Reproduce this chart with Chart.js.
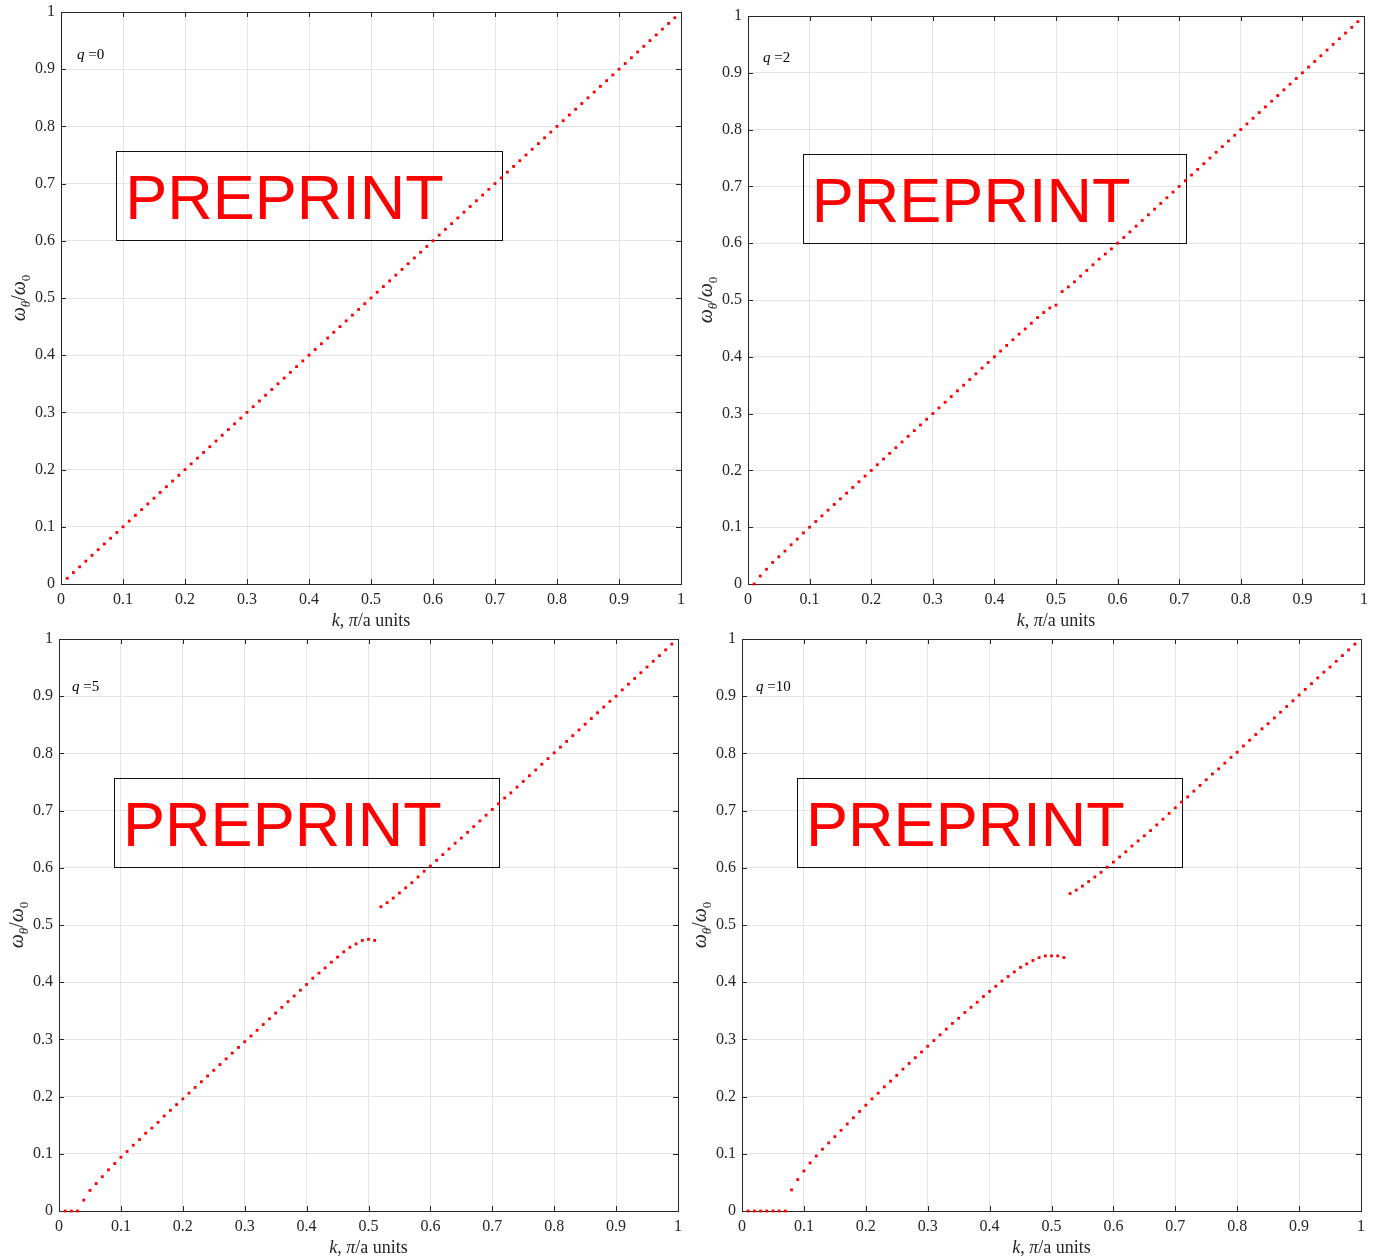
<!DOCTYPE html>
<html>
<head>
<meta charset="utf-8">
<script src="https://cdn.jsdelivr.net/npm/chart.js@4.4.0/dist/chart.umd.min.js"></script>
<style>
  html, body { margin: 0; padding: 0; background: #fff; }
  #fig { position: relative; width: 1387px; height: 1260px; overflow: hidden; }
  #fig canvas { position: absolute; }
</style>
</head>
<body>
<div id="fig">
  <canvas id="c0"></canvas>
  <canvas id="c1"></canvas>
  <canvas id="c2"></canvas>
  <canvas id="c3"></canvas>
</div>
<script>
// ─── Dados (k em unidades de π/a, ω_θ/ω_0) ──────────
const K = [
  0.01,0.02,0.03,0.04,0.05,0.06,0.07,0.08,0.09,0.10,
  0.11,0.12,0.13,0.14,0.15,0.16,0.17,0.18,0.19,0.20,
  0.21,0.22,0.23,0.24,0.25,0.26,0.27,0.28,0.29,0.30,
  0.31,0.32,0.33,0.34,0.35,0.36,0.37,0.38,0.39,0.40,
  0.41,0.42,0.43,0.44,0.45,0.46,0.47,0.48,0.49,0.50,
  0.51,0.52,0.53,0.54,0.55,0.56,0.57,0.58,0.59,0.60,
  0.61,0.62,0.63,0.64,0.65,0.66,0.67,0.68,0.69,0.70,
  0.71,0.72,0.73,0.74,0.75,0.76,0.77,0.78,0.79,0.80,
  0.81,0.82,0.83,0.84,0.85,0.86,0.87,0.88,0.89,0.90,
  0.91,0.92,0.93,0.94,0.95,0.96,0.97,0.98,0.99
];

const W_Q0 = [
  0.01,0.02,0.03,0.04,0.05,0.06,0.07,0.08,0.09,0.10,
  0.11,0.12,0.13,0.14,0.15,0.16,0.17,0.18,0.19,0.20,
  0.21,0.22,0.23,0.24,0.25,0.26,0.27,0.28,0.29,0.30,
  0.31,0.32,0.33,0.34,0.35,0.36,0.37,0.38,0.39,0.40,
  0.41,0.42,0.43,0.44,0.45,0.46,0.47,0.48,0.49,0.50,
  0.51,0.52,0.53,0.54,0.55,0.56,0.57,0.58,0.59,0.60,
  0.61,0.62,0.63,0.64,0.65,0.66,0.67,0.68,0.69,0.70,
  0.71,0.72,0.73,0.74,0.75,0.76,0.77,0.78,0.79,0.80,
  0.81,0.82,0.83,0.84,0.85,0.86,0.87,0.88,0.89,0.90,
  0.91,0.92,0.93,0.94,0.95,0.96,0.97,0.98,0.99
];

const W_Q2 = [
  0.000,0.014,0.026,0.038,0.048,0.058,0.069,0.079,0.090,0.100,
  0.110,0.120,0.130,0.140,0.150,0.160,0.170,0.180,0.190,0.200,
  0.210,0.220,0.230,0.240,0.250,0.260,0.270,0.280,0.290,0.300,
  0.310,0.320,0.330,0.340,0.350,0.360,0.370,0.380,0.390,0.400,
  0.410,0.420,0.430,0.440,0.449,0.459,0.469,0.478,0.486,0.491,
  0.515,0.523,0.532,0.542,0.552,0.562,0.572,0.581,0.590,0.600,
  0.610,0.620,0.630,0.640,0.650,0.660,0.670,0.680,0.690,0.700,
  0.710,0.720,0.730,0.740,0.750,0.760,0.770,0.780,0.790,0.800,
  0.810,0.820,0.830,0.840,0.850,0.860,0.870,0.880,0.890,0.900,
  0.910,0.920,0.930,0.940,0.950,0.960,0.970,0.980,0.990
];

const W_Q5 = [
  0.000,0.000,0.000,0.019,0.036,0.048,0.060,0.072,0.083,0.094,
  0.104,0.115,0.125,0.136,0.145,0.155,0.166,0.176,0.186,0.196,
  0.206,0.216,0.226,0.236,0.246,0.256,0.266,0.276,0.286,0.296,
  0.306,0.316,0.326,0.336,0.346,0.356,0.366,0.376,0.386,0.396,
  0.407,0.416,0.425,0.435,0.444,0.453,0.461,0.467,0.473,0.475,
  0.473,0.532,0.539,0.547,0.556,0.565,0.574,0.584,0.594,0.603,
  0.613,0.623,0.633,0.643,0.652,0.662,0.672,0.682,0.692,0.702,
  0.712,0.722,0.731,0.741,0.751,0.761,0.771,0.781,0.791,0.801,
  0.811,0.821,0.831,0.841,0.851,0.861,0.871,0.881,0.891,0.900,
  0.911,0.921,0.931,0.941,0.951,0.961,0.971,0.981,0.991
];

const W_Q10 = [
  0.000,0.000,0.000,0.000,0.000,0.000,0.000,0.037,0.055,0.070,
  0.084,0.096,0.108,0.119,0.130,0.141,0.152,0.163,0.174,0.185,
  0.196,0.206,0.217,0.227,0.237,0.248,0.258,0.268,0.278,0.288,
  0.298,0.308,0.318,0.328,0.337,0.347,0.356,0.365,0.375,0.384,
  0.393,0.402,0.410,0.418,0.426,0.432,0.438,0.443,0.446,0.446,
  0.446,0.443,0.555,0.561,0.568,0.576,0.584,0.592,0.601,0.610,
  0.619,0.628,0.638,0.647,0.656,0.665,0.675,0.685,0.695,0.705,
  0.715,0.724,0.734,0.744,0.754,0.764,0.773,0.783,0.793,0.802,
  0.813,0.823,0.833,0.843,0.852,0.862,0.872,0.882,0.892,0.902,
  0.912,0.922,0.932,0.942,0.951,0.961,0.971,0.981,0.991
];

const TICKS       = [0,0.1,0.2,0.3,0.4,0.5,0.6,0.7,0.8,0.9,1];
const TICK_LABELS = ['0','0.1','0.2','0.3','0.4','0.5','0.6','0.7','0.8','0.9','1'];
const Q_LABELS    = ['0','2','5','10'];
const STAMP       = 'PREPRINT';

// ─── Estilo ─────────────────────────────────────────
const SERIF = '"Liberation Serif", "Times New Roman", serif';
const SANS  = '"Liberation Sans", Arial, sans-serif';
const AXIS  = '#262626';
const GRID  = '#e4e4e4';
const RED   = '#ff0000';

// posição de cada painel na figura: canvas [left, top, w, h] e margens da área de plotagem
const PANELS = [
  { id:'c0', w:W_Q0,  q:Q_LABELS[0], box:[0,   0,   695, 632], top:12, right:14, yw:61, xh:48, qAt:[16,47] },
  { id:'c1', w:W_Q2,  q:Q_LABELS[1], box:[690, 0,   695, 632], top:16, right:21, yw:58, xh:48, qAt:[15,46] },
  { id:'c2', w:W_Q5,  q:Q_LABELS[2], box:[0,   615, 695, 645], top:24, right:17, yw:59, xh:49, qAt:[13,52] },
  { id:'c3', w:W_Q10, q:Q_LABELS[3], box:[690, 615, 695, 645], top:24, right:24, yw:52, xh:49, qAt:[14,52] },
];

// desenha uma sequência de pedaços de texto com fontes diferentes
function drawRuns(ctx, runs, x, y, align) {
  let total = 0;
  runs.forEach(r => { ctx.font = r.f; r.wd = ctx.measureText(r.t).width; total += r.wd; });
  let cx = align === 'center' ? x - total / 2 : x;
  runs.forEach(r => {
    ctx.font = r.f;
    ctx.fillText(r.t, cx, y + (r.dy || 0));
    cx += r.wd;
  });
}

// ─── Plugin: moldura, ticks internos, rótulos e carimbo ──
const decoracao = {
  id: 'decoracao',
  beforeDatasetsDraw(chart, args, opts) {
    const { ctx, chartArea: a, scales: { x, y } } = chart;
    ctx.save();

    // moldura
    ctx.strokeStyle = AXIS;
    ctx.lineWidth = 1;
    ctx.strokeRect(Math.round(a.left) + 0.5, Math.round(a.top) + 0.5,
                   Math.round(a.right - a.left), Math.round(a.bottom - a.top));

    // ticks internos nos quatro lados
    const tl = 5;
    ctx.beginPath();
    TICKS.forEach(v => {
      const px = Math.round(x.getPixelForValue(v)) + 0.5;
      ctx.moveTo(px, a.bottom); ctx.lineTo(px, a.bottom - tl);
      ctx.moveTo(px, a.top);    ctx.lineTo(px, a.top + tl);
      const py = Math.round(y.getPixelForValue(v)) + 0.5;
      ctx.moveTo(a.left, py);  ctx.lineTo(a.left + tl, py);
      ctx.moveTo(a.right, py); ctx.lineTo(a.right - tl, py);
    });
    ctx.stroke();

    // caixa "PREPRINT"
    const bx0 = x.getPixelForValue(0.089), bx1 = x.getPixelForValue(0.711);
    const by0 = y.getPixelForValue(0.757), by1 = y.getPixelForValue(0.601);
    ctx.strokeStyle = '#111';
    ctx.strokeRect(Math.round(bx0) + 0.5, Math.round(by0) + 0.5,
                   Math.round(bx1 - bx0), Math.round(by1 - by0));
    ctx.fillStyle = RED;
    ctx.font = '63px ' + SANS;
    ctx.textAlign = 'left';
    ctx.textBaseline = 'alphabetic';
    ctx.fillText(STAMP, bx0 + 9, by1 - 21);

    // rótulo q
    ctx.fillStyle = '#000';
    drawRuns(ctx, [
      { t: 'q', f: 'italic 15px ' + SERIF },
      { t: ' =' + opts.q, f: '15px ' + SERIF },
    ], a.left + opts.qAt[0], a.top + opts.qAt[1], 'left');

    // título do eixo x
    ctx.fillStyle = AXIS;
    drawRuns(ctx, [
      { t: 'k', f: 'italic 18px ' + SERIF },
      { t: ', ', f: '18px ' + SERIF },
      { t: 'π', f: 'italic 18px ' + SERIF },
      { t: '/a units', f: '18px ' + SERIF },
    ], (a.left + a.right) / 2, a.bottom + 42, 'center');

    // título do eixo y (girado)
    ctx.translate(a.left - 40, (a.top + a.bottom) / 2);
    ctx.rotate(-Math.PI / 2);
    drawRuns(ctx, [
      { t: 'ω', f: 'italic 20px ' + SERIF, dy: 4 },
      { t: 'θ', f: 'italic 13px ' + SERIF, dy: 9 },
      { t: '/', f: '20px ' + SERIF, dy: 4 },
      { t: 'ω', f: 'italic 20px ' + SERIF, dy: 4 },
      { t: '0', f: '13px ' + SERIF, dy: 9 },
    ], 0, 0, 'center');

    ctx.restore();
  },
};

// ─── Monta um painel ────────────────────────────────
function montarPainel(p) {
  const cv = document.getElementById(p.id);
  const [l, t, w, h] = p.box;
  cv.width = w; cv.height = h;
  cv.style.left = l + 'px'; cv.style.top = t + 'px';
  cv.style.width = w + 'px'; cv.style.height = h + 'px';

  const fonteTick = { family: SERIF, size: 16 };
  const rotulo = (v) => TICK_LABELS[TICKS.indexOf(Math.round(v * 10) / 10)];

  return new Chart(cv.getContext('2d'), {
    type: 'scatter',
    data: {
      datasets: [{
        data: K.map((k, i) => ({ x: k, y: p.w[i] })),
        backgroundColor: RED,
        borderWidth: 0,
        pointStyle: 'rect',
        pointRadius: 2,
        pointHoverRadius: 2,
        showLine: false,
        clip: false,
      }],
    },
    options: {
      responsive: false,
      animation: false,
      devicePixelRatio: 1,
      layout: { padding: { top: p.top, right: p.right, left: 0, bottom: 0 } },
      plugins: {
        legend: { display: false },
        tooltip: { enabled: false },
        decoracao: { q: p.q, qAt: p.qAt },
      },
      scales: {
        x: {
          type: 'linear', min: 0, max: 1,
          afterFit: s => { s.height = p.xh; s.paddingLeft = 0; s.paddingRight = 0; },
          afterBuildTicks: s => { s.ticks = TICKS.map(v => ({ value: v })); },
          ticks: {
            color: AXIS, font: fonteTick, padding: 6, maxRotation: 0, autoSkip: false,
            callback: rotulo,
          },
          grid: { color: GRID, lineWidth: 1, drawTicks: false },
          border: { display: false },
        },
        y: {
          type: 'linear', min: 0, max: 1,
          afterFit: s => { s.width = p.yw; s.paddingTop = 0; s.paddingBottom = 0; },
          afterBuildTicks: s => { s.ticks = TICKS.map(v => ({ value: v })); },
          ticks: {
            color: AXIS, font: fonteTick, padding: 6, autoSkip: false,
            callback: rotulo,
          },
          grid: { color: GRID, lineWidth: 1, drawTicks: false },
          border: { display: false },
        },
      },
    },
    plugins: [decoracao],
  });
}

PANELS.forEach(montarPainel);
</script>
</body>
</html>
